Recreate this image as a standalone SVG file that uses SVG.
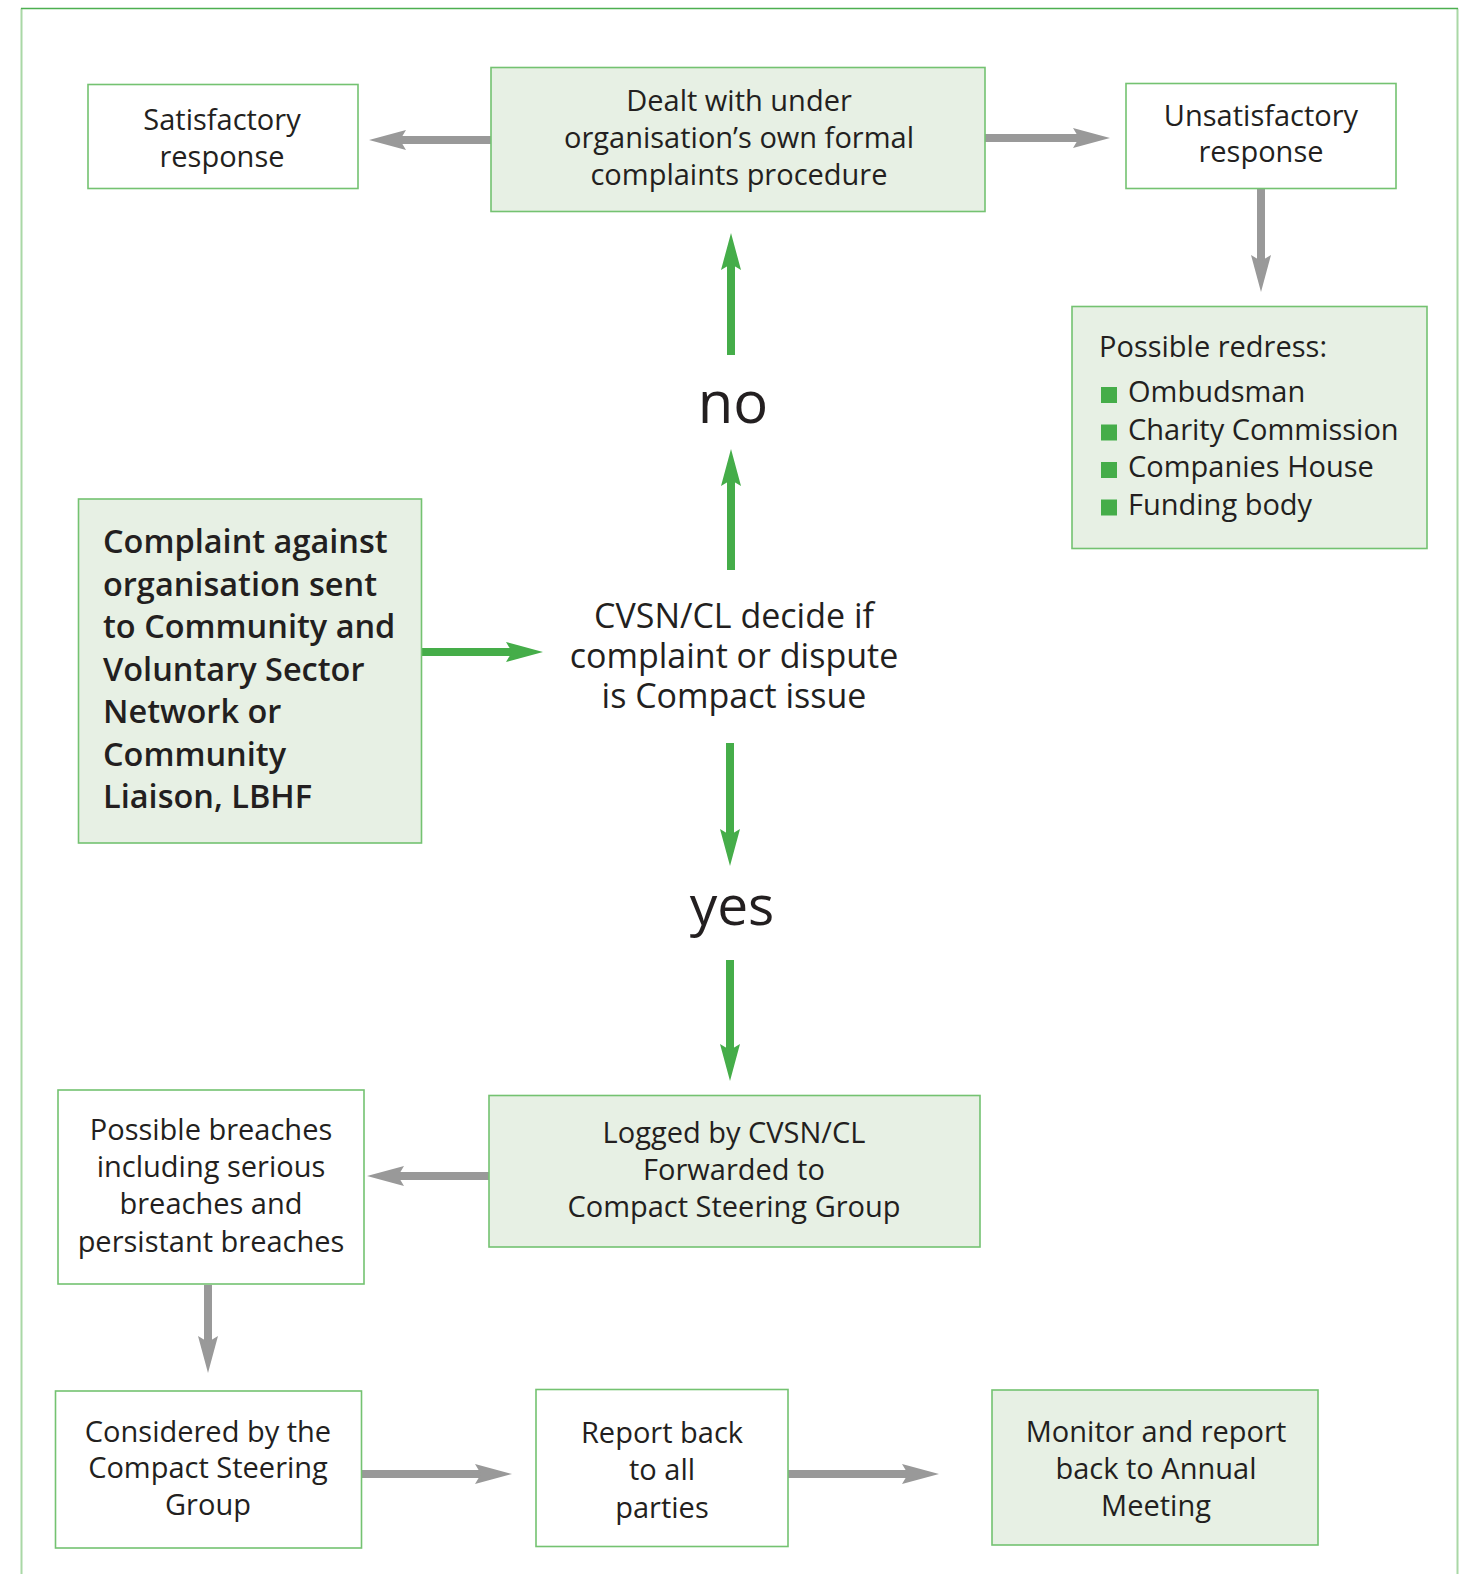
<svg xmlns="http://www.w3.org/2000/svg" width="1465" height="1574" viewBox="0 0 1465 1574">
<defs>
<style>
.box{stroke:#74c271;stroke-width:1.6}
.g{fill:#e7f0e4}
.w{fill:#ffffff}
text{font-family:"Open Sans","Noto Sans","Liberation Sans",sans-serif;fill:#231f20}
.t{font-size:29px;text-anchor:middle}
.tl{font-size:29px}
.b{font-size:32.5px;font-weight:600}
.c{font-size:34px;text-anchor:middle}
.big{font-size:58px;text-anchor:middle}
.ga{stroke:#999999;stroke-width:8;fill:none;marker-end:url(#mg)}
.gr{stroke:#45ad49;stroke-width:8;fill:none;marker-end:url(#mgr)}
.sq{fill:#45ad49}
</style>
<marker id="mg" markerUnits="userSpaceOnUse" markerWidth="40" markerHeight="24" refX="6" refY="11" orient="auto" viewBox="0 0 40 22">
<path d="M0,1 L37,11 L0,21 L6,11 Z" fill="#999999"/>
</marker>
<marker id="mgr" markerUnits="userSpaceOnUse" markerWidth="40" markerHeight="24" refX="6" refY="11" orient="auto" viewBox="0 0 40 22">
<path d="M0,1 L37,11 L0,21 L6,11 Z" fill="#45ad49"/>
</marker>
</defs>
<rect width="1465" height="1574" fill="#ffffff"/>
<g id="frame">
<path d="M21.5,1574 V8.5 M1457.5,8.5 V1574" stroke="#a9d8a6" stroke-width="2" fill="none"/>
<path d="M21,8.5 H1458" stroke="#4caf50" stroke-width="1.6" fill="none"/>
</g>
<g id="connectors">
<line class="ga" x1="491" y1="140" x2="400" y2="140"/>
<line class="ga" x1="985" y1="138" x2="1079" y2="138"/>
<line class="ga" x1="1261" y1="189" x2="1261" y2="261"/>
<line class="gr" x1="422" y1="652" x2="512" y2="652"/>
<line class="gr" x1="731" y1="355" x2="731" y2="264"/>
<line class="gr" x1="731" y1="570" x2="731" y2="480"/>
<line class="gr" x1="730" y1="743" x2="730" y2="835"/>
<line class="gr" x1="730" y1="960" x2="730" y2="1050"/>
<line class="ga" x1="489" y1="1176" x2="398" y2="1176"/>
<line class="ga" x1="208" y1="1285" x2="208" y2="1342"/>
<line class="ga" x1="362" y1="1474" x2="481" y2="1474"/>
<line class="ga" x1="788" y1="1474" x2="908" y2="1474"/>
</g>
<g id="satisfactory">
<rect class="box w" x="88" y="84.5" width="270" height="104"/>
<text class="t" x="222" y="130">Satisfactory</text>
<text class="t" x="222" y="167">response</text>
</g>
<g id="dealt">
<rect class="box g" x="491" y="67.5" width="494" height="144"/>
<text class="t" x="739" y="111">Dealt with under</text>
<text class="t" x="739" y="148">organisation’s own formal</text>
<text class="t" x="739" y="185">complaints procedure</text>
</g>
<g id="unsatisfactory">
<rect class="box w" x="1126" y="83.5" width="270" height="105"/>
<text class="t" x="1261" y="126">Unsatisfactory</text>
<text class="t" x="1261" y="162">response</text>
</g>
<g id="redress">
<rect class="box g" x="1072" y="306.5" width="355" height="242"/>
<text class="tl" x="1099" y="357">Possible redress:</text>
<rect class="sq" x="1101" y="387" width="16" height="16"/>
<text class="tl" x="1128" y="402">Ombudsman</text>
<rect class="sq" x="1101" y="424.5" width="16" height="16"/>
<text class="tl" x="1128" y="439.5">Charity Commission</text>
<rect class="sq" x="1101" y="462" width="16" height="16"/>
<text class="tl" x="1128" y="477">Companies House</text>
<rect class="sq" x="1101" y="499.5" width="16" height="16"/>
<text class="tl" x="1128" y="514.5">Funding body</text>
</g>
<g id="no-label">
<text class="big" x="733" y="423">no</text>
</g>
<g id="complaint">
<rect class="box g" x="78.5" y="499" width="343" height="344"/>
<text class="b" x="103" y="553">Complaint against</text>
<text class="b" x="103" y="595.5">organisation sent</text>
<text class="b" x="103" y="638">to Community and</text>
<text class="b" x="103" y="680.5">Voluntary Sector</text>
<text class="b" x="103" y="723">Network or</text>
<text class="b" x="103" y="765.5">Community</text>
<text class="b" x="103" y="808">Liaison, LBHF</text>
</g>
<g id="decide">
<text class="c" x="734" y="628">CVSN/CL decide if</text>
<text class="c" x="734" y="668">complaint or dispute</text>
<text class="c" x="734" y="708">is Compact issue</text>
</g>
<g id="yes-label">
<text class="big" x="732" y="925" style="font-size:55px">yes</text>
</g>
<g id="logged">
<rect class="box g" x="489" y="1095.5" width="491" height="151.5"/>
<text class="t" x="734" y="1143">Logged by CVSN/CL</text>
<text class="t" x="734" y="1180">Forwarded to</text>
<text class="t" x="734" y="1217">Compact Steering Group</text>
</g>
<g id="breaches">
<rect class="box w" x="58" y="1090" width="306" height="194"/>
<text class="t" x="211" y="1140">Possible breaches</text>
<text class="t" x="211" y="1177">including serious</text>
<text class="t" x="211" y="1214">breaches and</text>
<text class="t" x="211" y="1252">persistant breaches</text>
</g>
<g id="considered">
<rect class="box w" x="55.5" y="1391" width="306" height="157"/>
<text class="t" x="208" y="1442">Considered by the</text>
<text class="t" x="208" y="1478">Compact Steering</text>
<text class="t" x="208" y="1515">Group</text>
</g>
<g id="report">
<rect class="box w" x="536" y="1389.5" width="252" height="157"/>
<text class="t" x="662" y="1443">Report back</text>
<text class="t" x="662" y="1480">to all</text>
<text class="t" x="662" y="1518">parties</text>
</g>
<g id="monitor">
<rect class="box g" x="992" y="1390" width="326" height="155"/>
<text class="t" x="1156" y="1442">Monitor and report</text>
<text class="t" x="1156" y="1479">back to Annual</text>
<text class="t" x="1156" y="1516">Meeting</text>
</g>
</svg>
